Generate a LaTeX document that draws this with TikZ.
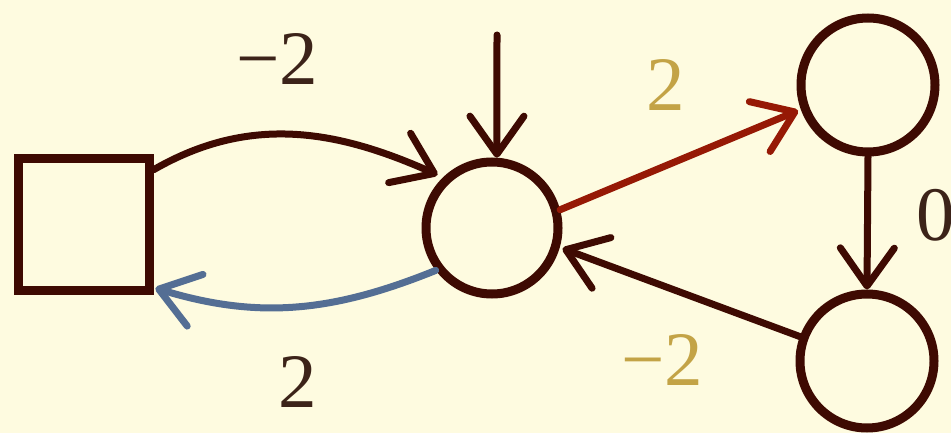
\documentclass[tikz,border=0pt]{standalone}
\usepackage{fontspec}
\setmainfont{Liberation Serif}
\usetikzlibrary{arrows.meta}
\definecolor{bg}{RGB}{254,251,224}
\definecolor{chalk}{RGB}{62,10,2}
\definecolor{chalkred}{RGB}{150,25,5}
\definecolor{chalkblue}{RGB}{84,110,148}
\definecolor{gold}{RGB}{195,163,70}
\definecolor{ink}{RGB}{60,35,25}
\begin{document}
\begin{tikzpicture}[x=1pt,y=-1pt,
  shapebox/.style={draw=chalk,line width=9pt,inner sep=0pt,minimum size=131pt},
  ring/.style={draw=chalk,circle,line width=9pt,inner sep=0pt},
  arr/.style={line width=7pt,line cap=round,
    -{Straight Barb[length=38pt,width=54pt,round]}},
  lab/.style={font=\fontsize{77}{77}\selectfont,inner sep=0pt},
]
\fill[bg] (0,0) rectangle (951,433);
\useasboundingbox (0,0) rectangle (951,433);

\node[shapebox] (sq) at (83.5,224.5) {};
\node[ring,minimum size=132pt] (mid) at (492,228) {};
\node[ring,minimum size=134pt] (tr) at (868,85) {};
\node[ring,minimum size=134pt] (br) at (867,361) {};
\coordinate (topin) at (497,35);

\draw[arr,chalk,shorten >=6pt] (sq.38) to[out=30,in=156] (mid.134);
\draw[arr,chalkblue,shorten >=2pt] (mid.217) to[out=202,in=-17] (sq.-42);
\draw[arr,chalk] (topin) -- (mid.86);
\draw[arr,chalkred,shorten >=3pt] (mid.15) -- (tr.200);
\draw[arr,chalk,shorten >=3pt] (br.160) -- (mid.344);
\draw[arr,chalk] (tr.south) -- (br.north);

\node[lab,text=ink] (l1) at (277,59) {−2};
\node[lab,text=gold] (l2) at (666,85) {2};
\node[lab,text=ink] (l3) at (936,215) {0};
\node[lab,text=ink] (l4) at (298,382) {2};
\node[lab,text=gold] (l5) at (662,360) {−2};
\end{tikzpicture}
\end{document}
